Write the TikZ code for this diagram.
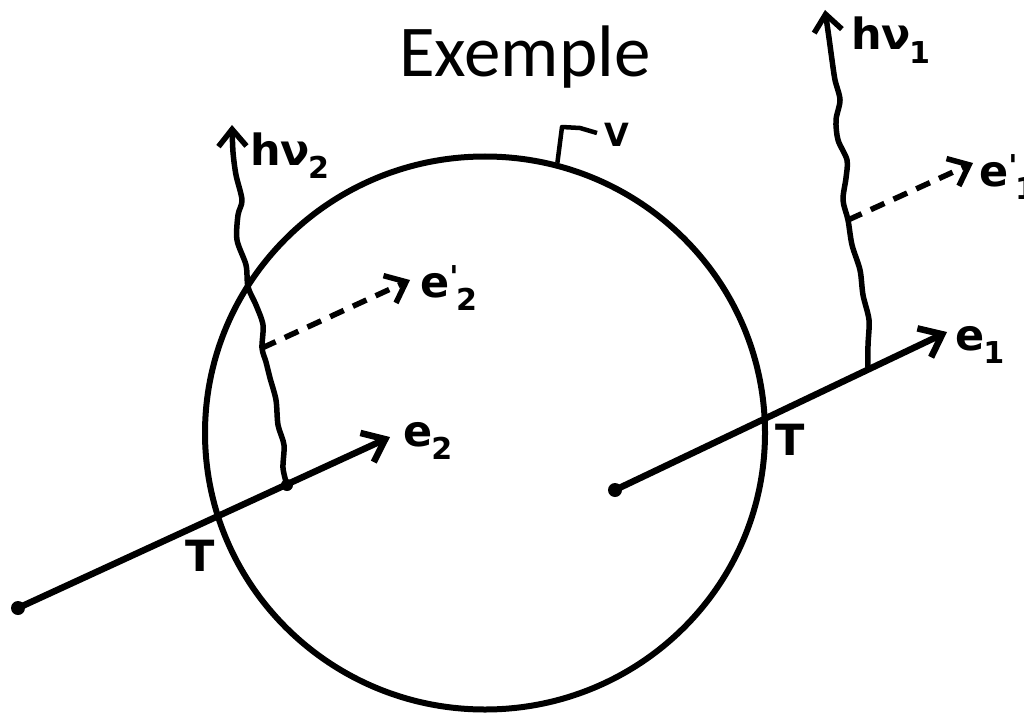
\documentclass[tikz,border=0pt]{standalone}
\usepackage{fontspec}
\setmainfont{Carlito}
\newfontfamily\handfont{DejaVu Sans}
\usetikzlibrary{arrows.meta,shapes.geometric}
\newcommand\eprime[1]{e\textsuperscript{'}\kern-3pt\textsubscript{#1}}
\begin{document}
\begin{tikzpicture}[x=1pt,y=-1pt,
  thick line/.style={line width=6.5pt},
  arr/.style={thick line,-{Straight Barb[length=20pt,width=32pt,line width=6.5pt]}},
  darr/.style={line width=5.5pt,dash pattern=on 15pt off 10pt,-{Straight Barb[length=18pt,width=30pt,line width=5.5pt]}},
  wavy/.style={line width=5.5pt,line join=round,-{Straight Barb[length=17pt,width=28pt,line width=5.5pt]}},
  dot/.style={circle,fill=black,inner sep=0pt,minimum size=14pt},
  lbl/.style={font=\handfont\bfseries\fontsize{43}{50}\selectfont,inner sep=0pt},
  title/.style={font=\fontsize{73}{88}\selectfont,inner sep=0pt}]
\useasboundingbox (0,0) rectangle (1024,714);

% title
\node[title,anchor=base] (ttl) at (525,77) {Exemple};

% sphere V
\node[draw,ellipse,line width=6pt,minimum width=560pt,minimum height=553pt,inner sep=0pt] (V) at (485,433) {};

% left electron e2
\node[dot] (s2) at (18,608) {};
\coordinate (e2end) at (390,437);
\node[dot,minimum size=12pt] (j2) at (287,485) {};
\draw[arr] (s2.center) -- (e2end);

% right electron e1
\node[dot] (s1) at (615,490) {};
\coordinate (e1end) at (947,332);
\coordinate (j1) at (868,369);
\draw[arr] (s1.center) -- (e1end);

% photon hnu2
\coordinate (b2) at (262,348);
\coordinate (p2end) at (232,125);
\draw[wavy] plot[smooth] coordinates {(j2.center) (283,468) (284,445) (278,425) (276,400) (270,378) (266,362) (b2) (263,325) (256,305) (248,287) (246,265) (237,240) (238,215) (242,200) (236,175) (233,152) (p2end)};

% photon hnu1
\coordinate (b1) at (848,220);
\coordinate (p1end) at (825,10);
\draw[wavy] plot[smooth] coordinates {(j1) (868,345) (869,320) (863,295) (860,270) (852,245) (b1) (843,200) (846,178) (847,160) (838,140) (836,120) (840,100) (835,80) (832,60) (829,38) (p1end)};

% secondary electrons
\coordinate (ep2end) at (410,280);
\coordinate (ep1end) at (973,163);
\draw[darr] (b2) -- (ep2end);
\draw[darr] (b1) -- (ep1end);

% leader for V
\coordinate (vl1) at (562,127);
\coordinate (vl2) at (580,128);
\coordinate (vl3) at (597,133);
\draw[line width=4.5pt,line join=round] (V.75.5) -- (vl1) -- (vl2) -- (vl3);

% labels
\node[lbl,anchor=base west] (lhn2) at (250,165) {hν\kern-2pt\textsubscript{2}};
\node[lbl,anchor=base west] (lhn1) at (851,50) {hν\kern-2pt\textsubscript{1}};
\node[lbl,anchor=base west] (le2) at (403,446) {e\kern-1pt\textsubscript{2}};
\node[lbl,anchor=base west] (lep2) at (420,297) {\eprime{2}};
\node[lbl,anchor=base west] (le1) at (955,350) {e\kern-1pt\textsubscript{1}};
\node[lbl,anchor=base west] (lep1) at (979,186) {\eprime{1}};
\node[lbl] (lT2) at (200,556) {T};
\node[lbl] (lT1) at (790,440) {T};
\node[lbl,font=\handfont\bfseries\fontsize{32}{40}\selectfont] (lV) at (617,135) {V};
\end{tikzpicture}
\end{document}
